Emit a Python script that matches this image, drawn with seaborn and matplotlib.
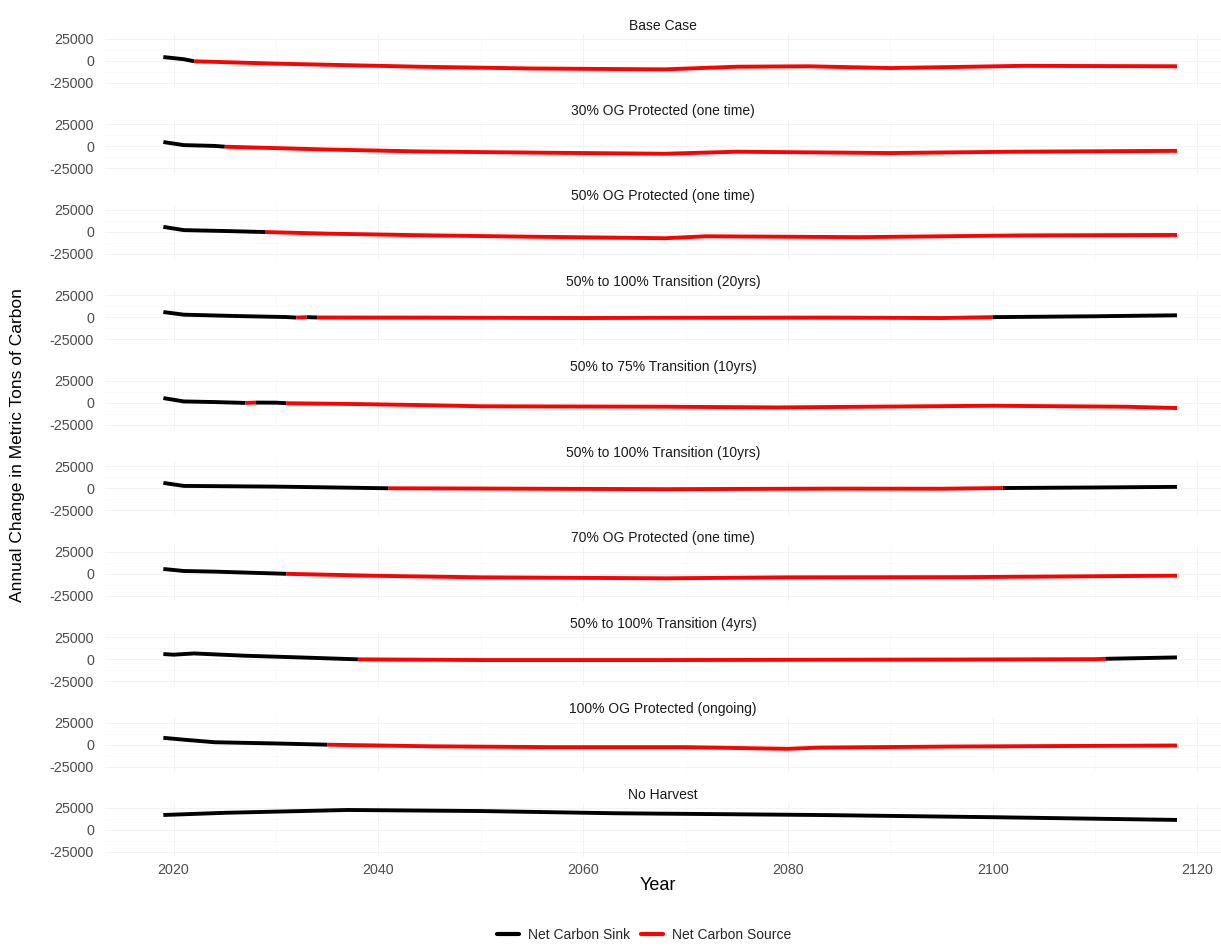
import numpy as np
import pandas as pd
import matplotlib
matplotlib.use("Agg")
import matplotlib.pyplot as plt
from matplotlib.lines import Line2D
import seaborn as sns

# ---- data: annual change in metric tons of carbon, by scenario ----
scenarios = [
    "Base Case",
    "30% OG Protected (one time)",
    "50% OG Protected (one time)",
    "50% to 100% Transition (20yrs)",
    "50% to 75% Transition (10yrs)",
    "50% to 100% Transition (10yrs)",
    "70% OG Protected (one time)",
    "50% to 100% Transition (4yrs)",
    "100% OG Protected (ongoing)",
    "No Harvest",
]

base_years = [2019, 2021, 2022, 2030, 2044, 2055, 2068, 2075, 2082, 2090, 2103, 2118]
base_vals = [4500, 2000, -300, -3000, -6500, -8500, -9500, -6500, -6000, -8000, -5500, -6000]

og30_years = [2019, 2021, 2024, 2025, 2035, 2044, 2055, 2068, 2075, 2085, 2090, 2102, 2118]
og30_vals = [5000, 1500, 600, -300, -3500, -5700, -7000, -8300, -6000, -7000, -7500, -6000, -5000]

og50_years = [2019, 2021, 2025, 2029, 2035, 2044, 2055, 2068, 2072, 2087, 2103, 2118]
og50_vals = [5700, 2000, 1000, -200, -2000, -3800, -5500, -7200, -5000, -6000, -4000, -3500]

t20_years = [2019, 2021, 2026, 2031, 2032, 2033, 2034, 2044, 2060, 2068, 2084, 2095, 2100, 2110, 2118]
t20_vals = [6000, 3000, 1500, 300, -300, 200, -200, -300, -800, -500, -300, -800, 200, 1200, 2300]

t75_years = [2019, 2021, 2024, 2027, 2028, 2030, 2031, 2038, 2044, 2050, 2068, 2079, 2090, 2100, 2113, 2118]
t75_vals = [5300, 1500, 800, -200, 200, 100, -500, -1500, -2600, -4000, -4500, -5300, -4300, -3400, -4500, -6000]

t10_years = [2019, 2021, 2030, 2041, 2050, 2068, 2084, 2095, 2101, 2110, 2118]
t10_vals = [6000, 2600, 1800, -100, -400, -1100, -500, -600, 200, 800, 1500]

og70_years = [2019, 2021, 2024, 2031, 2040, 2050, 2068, 2080, 2097, 2118]
og70_vals = [5300, 3000, 2300, -200, -2500, -4200, -5300, -4200, -4000, -2300]

t4_years = [2019, 2020, 2022, 2027, 2032, 2038, 2050, 2068, 2097, 2110, 2111, 2118]
t4_vals = [5700, 5000, 6400, 3800, 2000, -300, -1100, -1100, -500, -100, 300, 1900]

og100_years = [2019, 2021, 2024, 2030, 2035, 2045, 2057, 2070, 2080, 2083, 2096, 2118]
og100_vals = [7600, 5500, 2600, 1200, -200, -2000, -3000, -3000, -4900, -3500, -2300, -1100]

noharv_years = [2019, 2025, 2037, 2050, 2063, 2083, 2100, 2118]
noharv_vals = [17000, 19500, 22700, 21500, 19000, 17000, 14500, 11400]

series = [
    (base_years, base_vals),
    (og30_years, og30_vals),
    (og50_years, og50_vals),
    (t20_years, t20_vals),
    (t75_years, t75_vals),
    (t10_years, t10_vals),
    (og70_years, og70_vals),
    (t4_years, t4_vals),
    (og100_years, og100_vals),
    (noharv_years, noharv_vals),
]

legend_labels = ["Net Carbon Sink", "Net Carbon Source"]
sink_color = "#000000"
source_color = "#FF0000"

# ---- styling ----
sns.set_theme(style="white")
plt.rcParams["font.family"] = ["Liberation Sans", "DejaVu Sans"]
plt.rcParams["axes.unicode_minus"] = False

W, H = 1221, 946
fig = plt.figure(figsize=(W / 100, H / 100), dpi=100)

x_lo, x_hi = 2013.3, 2122.3
y_lim = 31000
px_per_unit = 22 / 25000
half_h = y_lim * px_per_unit
ax_left_px, ax_right_px = 105, 1221
first_zero_px, step_px = 61, 85.44

grid_kw = dict(color="#f1f1f1", linewidth=0.6)
minor_kw = dict(color="#f7f7f7", linewidth=0.4)

axes = []
for i, (name, (yrs, vals)) in enumerate(zip(scenarios, series)):
    zero_px = first_zero_px + step_px * i
    ax = fig.add_axes([ax_left_px / W, 1 - (zero_px + half_h) / H,
                       (ax_right_px - ax_left_px) / W, 2 * half_h / H])
    axes.append(ax)

    df = pd.DataFrame({"Year": yrs, "Value": vals})
    # split into runs where each segment takes the colour of its starting point
    sign = df["Value"].values >= 0
    start = 0
    for j in range(1, len(df)):
        if j == len(df) - 1 or sign[j] != sign[start]:
            seg = df.iloc[start:j + 1]
            sns.lineplot(data=seg, x="Year", y="Value", ax=ax,
                         color=sink_color if sign[start] else source_color,
                         linewidth=2.8, estimator=None, sort=False,
                         solid_capstyle="butt", legend=False)
            start = j

    ax.set_xlim(x_lo, x_hi)
    ax.set_ylim(-y_lim, y_lim)
    ax.set_yticks([-25000, 0, 25000])
    ax.set_yticks([-12500, 12500], minor=True)
    ax.set_xticks([2020, 2040, 2060, 2080, 2100, 2120])
    ax.set_xticks([2030, 2050, 2070, 2090, 2110], minor=True)
    ax.grid(True, which="major", **grid_kw)
    ax.grid(True, which="minor", **minor_kw)
    ax.set_axisbelow(True)
    for s in ax.spines.values():
        s.set_visible(False)
    ax.tick_params(axis="both", which="both", length=0, labelsize=10.3,
                   labelcolor="#4d4d4d", pad=8)
    ax.set_ylabel("")
    ax.set_xlabel("")
    ax.set_title(name, fontsize=10, color="#1a1a1a", pad=3)
    if i < len(scenarios) - 1:
        ax.tick_params(axis="x", labelbottom=False)
    else:
        ax.tick_params(axis="x", pad=4)

fig.text(18 / W, 1 - 445 / H, "Annual Change in Metric Tons of Carbon",
         rotation=90, ha="center", va="center", fontsize=12.5, color="#000000")
fig.text(658 / W, 1 - 885 / H, "Year", ha="center", va="center",
         fontsize=13, color="#000000")

handles = [Line2D([0], [0], color=sink_color, lw=3),
           Line2D([0], [0], color=source_color, lw=3)]
fig.legend(handles, legend_labels, loc="center", ncol=2,
           bbox_to_anchor=(644 / W, 1 - 935 / H), frameon=False,
           fontsize=10, handlelength=1.6, columnspacing=0.8, handletextpad=0.6)

fig.savefig("out.png", dpi=100, facecolor="white")
